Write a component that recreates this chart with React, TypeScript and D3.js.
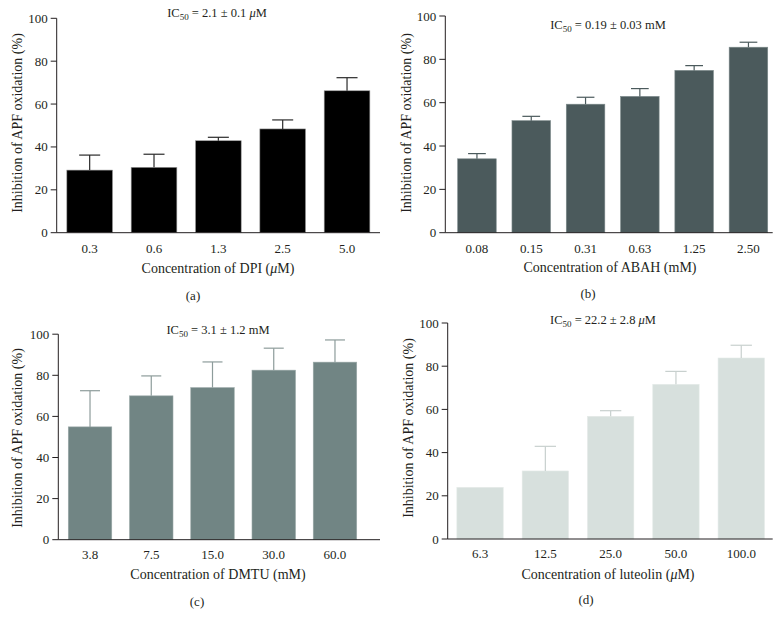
import React from "react";
import * as d3 from "d3";

// ---- data ----
const catsA = ["0.3", "0.6", "1.3", "2.5", "5.0"];
const meanA = [29.2, 30.5, 42.9, 48.4, 66.2];
const errA = [36.2, 36.6, 44.5, 52.6, 72.3];

const catsB = ["0.08", "0.15", "0.31", "0.63", "1.25", "2.50"];
const meanB = [34.1, 51.7, 59.3, 62.9, 74.9, 85.6];
const errB = [36.5, 53.7, 62.5, 66.5, 77.1, 87.9];

const catsC = ["3.8", "7.5", "15.0", "30.0", "60.0"];
const meanC = [54.9, 70.0, 74.0, 82.5, 86.4];
const errC = [72.5, 79.7, 86.5, 93.2, 97.2];

const catsD = ["6.3", "12.5", "25.0", "50.0", "100.0"];
const meanD = [23.9, 31.5, 56.8, 71.6, 83.8];
const errD = [23.9, 42.9, 59.4, 77.6, 89.7];

const yTicks = [0, 20, 40, 60, 80, 100];

const FONT = "'Liberation Serif', 'Times New Roman', serif";
const TICK_FS = 13;
const AXIS_FS = 14;
const TITLE_FS = 12.5;

type Panel = {
  cats: string[];
  mean: number[];
  err: number[];
  axisLeft: number;
  axisRight: number;
  bandLeft: number;
  bandRight: number;
  yTop: number;
  yBottom: number;
  fill: string;
  stroke: string;
  errColor: string;
  title: { pre: string; value: string; unitItalic: string; unit: string; x: number; y: number };
  xTitle: { pre: string; italic: string; post: string; x: number };
  xTitleY: number;
  tickY: number;
  yLabelX: number;
  yLabelY: number;
  caption: string;
  captionX: number;
  captionY: number;
};

const panels: Panel[] = [
  {
    cats: catsA, mean: meanA, err: errA,
    axisLeft: 56.7, axisRight: 380, bandLeft: 57.5, bandRight: 379.2,
    yTop: 18.3, yBottom: 232.7,
    fill: "#000000", stroke: "#9a9a9a", errColor: "#2a2a2a",
    title: { pre: "IC", value: " = 2.1 ± 0.1 ", unitItalic: "μ", unit: "M", x: 217, y: 17 },
    xTitle: { pre: "Concentration of DPI (", italic: "μ", post: "M)", x: 218 },
    xTitleY: 272.5, tickY: 252.5, yLabelX: 17, yLabelY: 123,
    caption: "(a)", captionX: 193, captionY: 299.5,
  },
  {
    cats: catsB, mean: meanB, err: errB,
    axisLeft: 445.3, axisRight: 772.7, bandLeft: 449.8, bandRight: 775.6,
    yTop: 16, yBottom: 232.7,
    fill: "#4b5a5c", stroke: "#7d8a8b", errColor: "#4b5a5c",
    title: { pre: "IC", value: " = 0.19 ± 0.03 mM", unitItalic: "", unit: "", x: 608, y: 29 },
    xTitle: { pre: "Concentration of ABAH (mM)", italic: "", post: "", x: 610 },
    xTitleY: 271.5, tickY: 252.5, yLabelX: 406, yLabelY: 123,
    caption: "(b)", captionX: 588, captionY: 297.5,
  },
  {
    cats: catsC, mean: meanC, err: errC,
    axisLeft: 58.3, axisRight: 380, bandLeft: 59.4, bandRight: 365.6,
    yTop: 334.2, yBottom: 539.7,
    fill: "#718584", stroke: "#9aa8a7", errColor: "#8d9c9b",
    title: { pre: "IC", value: " = 3.1 ± 1.2 mM", unitItalic: "", unit: "", x: 218, y: 334 },
    xTitle: { pre: "Concentration of DMTU (mM)", italic: "", post: "", x: 218 },
    xTitleY: 579, tickY: 559, yLabelX: 17, yLabelY: 438,
    caption: "(c)", captionX: 197, captionY: 605.5,
  },
  {
    cats: catsD, mean: meanD, err: errD,
    axisLeft: 447.7, axisRight: 772.7, bandLeft: 447.4, bandRight: 773.9,
    yTop: 323, yBottom: 539,
    fill: "#d7e0dd", stroke: "#e4eae8", errColor: "#c8d0ce",
    title: { pre: "IC", value: " = 22.2 ± 2.8 ", unitItalic: "μ", unit: "M", x: 603, y: 323.5 },
    xTitle: { pre: "Concentration of luteolin (", italic: "μ", post: "M)", x: 608 },
    xTitleY: 578.5, tickY: 557.5, yLabelX: 408, yLabelY: 428,
    caption: "(d)", captionX: 586, captionY: 604,
  },
];

function PanelView({ p }: { p: Panel }) {
  const x = d3.scaleBand<string>().domain(p.cats).range([p.bandLeft, p.bandRight]).paddingInner(0.29).paddingOuter(0.145);
  const y = d3.scaleLinear().domain([0, 100]).range([p.yBottom, p.yTop]);
  const bw = x.bandwidth();
  const capW = bw * 0.46;
  return (
    <g fontFamily={FONT} fill="#231f20">
      {p.cats.map((c, i) => (
        <rect key={"b" + c} x={x(c)!} y={y(p.mean[i])} width={bw} height={y(0) - y(p.mean[i])}
          fill={p.fill} stroke={p.stroke} strokeWidth={0.6} />
      ))}
      {p.cats.map((c, i) => {
        if (p.err[i] <= p.mean[i]) return null;
        const cx = x(c)! + bw / 2;
        return (
          <g key={"e" + c} stroke={p.errColor} strokeWidth={1.2}>
            <line x1={cx} x2={cx} y1={y(p.mean[i])} y2={y(p.err[i])} />
            <line x1={cx - capW / 2} x2={cx + capW / 2} y1={y(p.err[i])} y2={y(p.err[i])} />
          </g>
        );
      })}
      <line x1={p.axisLeft} x2={p.axisLeft} y1={y(100)} y2={y(0)} stroke="#231f20" strokeWidth={1} />
      <line x1={p.axisLeft} x2={p.axisRight} y1={y(0)} y2={y(0)} stroke="#231f20" strokeWidth={1} />
      {yTicks.map((t) => (
        <g key={"t" + t}>
          <line x1={p.axisLeft - 6} x2={p.axisLeft} y1={y(t)} y2={y(t)} stroke="#231f20" strokeWidth={1} />
          <text x={p.axisLeft - 9} y={y(t)} dy="0.35em" textAnchor="end" fontSize={TICK_FS}>{t}</text>
        </g>
      ))}
      {p.cats.map((c) => (
        <text key={"x" + c} x={x(c)! + bw / 2} y={p.tickY} textAnchor="middle" fontSize={TICK_FS}>{c}</text>
      ))}
      <text x={p.title.x} y={p.title.y} textAnchor="middle" fontSize={TITLE_FS}>
        {p.title.pre}
        <tspan fontSize={9} dy={3}>50</tspan>
        <tspan dy={-3}>{p.title.value}</tspan>
        {p.title.unitItalic && <tspan fontStyle="italic">{p.title.unitItalic}</tspan>}
        {p.title.unit && <tspan>{p.title.unit}</tspan>}
      </text>
      <text x={p.xTitle.x} y={p.xTitleY} textAnchor="middle" fontSize={AXIS_FS}>
        {p.xTitle.pre}
        {p.xTitle.italic && <tspan fontStyle="italic">{p.xTitle.italic}</tspan>}
        {p.xTitle.post}
      </text>
      <text transform={`translate(${p.yLabelX},${p.yLabelY}) rotate(-90)`} dy="0.35em" textAnchor="middle" fontSize={AXIS_FS}>
        Inhibition of APF oxidation (%)
      </text>
      <text x={p.captionX} y={p.captionY} textAnchor="middle" fontSize={TICK_FS}>{p.caption}</text>
    </g>
  );
}

export default function App() {
  return (
    <svg width={782} height={627} style={{ position: "absolute", left: 0, top: 0, background: "#fff" }}>
      <rect width={782} height={627} fill="#fff" />
      {panels.map((p) => (
        <PanelView key={p.caption} p={p} />
      ))}
    </svg>
  );
}
